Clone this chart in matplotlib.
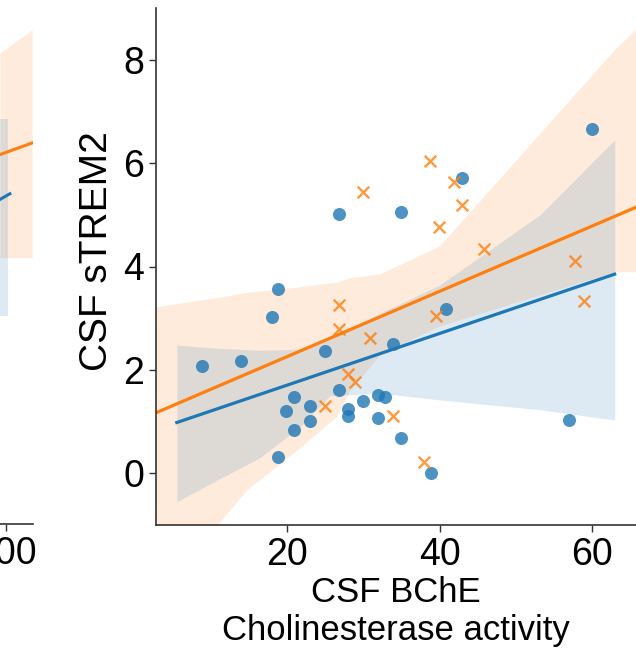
import matplotlib
matplotlib.use("Agg")
import matplotlib.pyplot as plt
import numpy as np

plt.rcParams["font.family"] = ["Liberation Sans", "DejaVu Sans"]
plt.rcParams["font.size"] = 25

BLUE = "#1f77b4"
ORANGE = "#ff7f0e"

# main panel: CSF BChE vs CSF sTREM2
blue_x = [8.85, 13.9, 18.0, 18.8, 18.8, 19.9, 20.9, 20.9, 23.0, 23.0, 25.0, 26.8, 26.8, 28.0,
          28.0, 30.0, 31.9, 32.9, 31.9, 33.9, 34.9, 35.0, 38.9, 40.8, 42.9, 57.0, 60.0]
blue_y = [2.08, 2.17, 3.02, 3.56, 0.31, 1.21, 1.47, 0.84, 1.30, 1.01, 2.37, 5.02, 1.61, 1.24,
          1.11, 1.39, 1.51, 1.47, 1.06, 2.51, 5.05, 0.68, 0.0, 3.18, 5.72, 1.03, 6.65]

orange_x = [25.0, 26.8, 26.8, 28.0, 28.9, 30.0, 30.9, 33.9, 37.9, 38.7, 39.6, 39.9, 41.9,
            42.9, 45.8, 57.8, 59.0]
orange_y = [1.30, 3.26, 2.79, 1.93, 1.77, 5.45, 2.61, 1.11, 0.21, 6.05, 3.05, 4.77, 5.64,
            5.18, 4.34, 4.11, 3.34]

# confidence bands
blue_ci_x = [5.5, 10.8, 16.4, 21.7, 25.6, 32.2, 40.0, 53.2, 63.0]
blue_ci_lo = [-0.55, -0.13, 0.3, 0.9, 1.5, 1.55, 1.42, 1.23, 1.03]
blue_ci_hi = [2.48, 2.42, 2.38, 2.4, 2.6, 3.1, 3.64, 5.0, 6.45]

orange_ci_x = [2.77, 10.8, 14.7, 21.7, 26.5, 28.2, 32.2, 40.0, 63.0, 65.8]
orange_ci_lo = [-1.8, -1.0, -0.32, 0.5, 1.1, 1.6, 2.3, 2.85, 3.9, 3.9]
orange_ci_hi = [3.22, 3.4, 3.5, 3.61, 3.7, 3.78, 3.86, 4.4, 8.2, 8.6]

blue_line_range = [5.5, 63.0]
orange_line_range = [2.77, 65.8]

# partly visible left panel (only its right end is in frame)
left_blue_x = [98.7, 100.9]
left_blue_y = [5.29, 5.40]
left_orange_x = [98.7, 106.0]
left_orange_y = [6.16, 6.39]
left_blue_ci_x = [98.7, 100.5]
left_blue_ci_lo = [3.03, 3.03]
left_blue_ci_hi = [6.85, 6.85]
left_orange_ci_x = [98.7, 105.8]
left_orange_ci_lo = [4.16, 4.16]
left_orange_ci_hi = [8.13, 8.58]

fig = plt.figure(figsize=(6.36, 6.54), dpi=100)

W, H = 636, 654
ax_left = fig.add_axes([(33 - 480) / W, (H - 524) / H, 480 / W, 516 / H])
ax = fig.add_axes([156 / W, (H - 525) / H, 480 / W, 517 / H])

# left panel
ax_left.fill_between(left_orange_ci_x, left_orange_ci_lo, left_orange_ci_hi,
                     color=ORANGE, alpha=0.15, lw=0)
ax_left.fill_between(left_blue_ci_x, left_blue_ci_lo, left_blue_ci_hi,
                     color=BLUE, alpha=0.15, lw=0)
ax_left.plot(left_blue_x, left_blue_y, color=BLUE, lw=2.2)
ax_left.plot(left_orange_x, left_orange_y, color=ORANGE, lw=2.2)
ax_left.set_xlim(0, 106)
ax_left.set_ylim(-1, 9)
ax_left.set_xticks([100])
ax_left.set_yticks([])
ax_left.tick_params(labelsize=27)
for s in ["top", "right", "left"]:
    ax_left.spines[s].set_visible(False)

# main panel
bx = np.array(blue_x)
by = np.array(blue_y)
ox = np.array(orange_x)
oy = np.array(orange_y)

ax.fill_between(orange_ci_x, orange_ci_lo, orange_ci_hi, color=ORANGE, alpha=0.15, lw=0)
ax.fill_between(blue_ci_x, blue_ci_lo, blue_ci_hi, color=BLUE, alpha=0.15, lw=0)

ax.scatter(bx, by, color=BLUE, marker="o", s=88, alpha=0.8, lw=0, zorder=3)
ax.scatter(ox, oy, color=ORANGE, marker="x", s=70, alpha=0.8, lw=1.7, zorder=3)

for x, y, rng, c in [(bx, by, blue_line_range, BLUE), (ox, oy, orange_line_range, ORANGE)]:
    slope, icpt = np.polyfit(x, y, 1)
    xx = np.array(rng)
    ax.plot(xx, icpt + slope * xx, color=c, lw=2.3, zorder=2)

ax.set_xlim(2.77, 65.8)
ax.set_ylim(-1, 9)
ax.set_xticks([20, 40, 60])
ax.set_yticks([0, 2, 4, 6, 8])
ax.tick_params(labelsize=27)
ax.set_xlabel("CSF BChE\nCholinesterase activity", fontsize=25, labelpad=2)
ax.set_ylabel("CSF sTREM2", fontsize=28)
ax.yaxis.set_label_coords(-0.085, 0.53)
ax.spines["top"].set_visible(False)
ax.spines["right"].set_visible(False)

for a in (ax, ax_left):
    for s in a.spines.values():
        s.set_linewidth(1.2)
        s.set_color("#333333")
    a.tick_params(width=1.0, length=5, color="#333333")

fig.savefig("out.png", dpi=100)
